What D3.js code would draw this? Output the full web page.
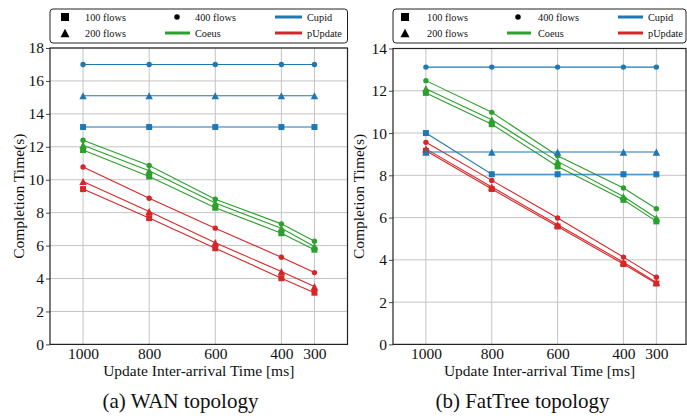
<!DOCTYPE html>
<html><head><meta charset="utf-8">
<script src="https://cdn.jsdelivr.net/npm/d3@7"></script>
</head>
<body style="margin:0">
<svg id="s" width="687" height="418"></svg>
<script>
// ---------- data ----------
const xValues = [1000, 800, 600, 400, 300];
const xTickLabels = ["1000", "800", "600", "400", "300"];
const flowLabels = ["100 flows", "200 flows", "400 flows"];
const algoLabels = ["Coeus", "Cupid", "pUpdate"];

// WAN topology
const wanCupid100 = [13.2, 13.2, 13.2, 13.2, 13.2];
const wanCupid200 = [15.1, 15.1, 15.1, 15.1, 15.1];
const wanCupid400 = [17.0, 17.0, 17.0, 17.0, 17.0];
const wanCoeus100 = [11.8, 10.2, 8.3, 6.75, 5.75];
const wanCoeus200 = [12.1, 10.55, 8.58, 7.05, 5.95];
const wanCoeus400 = [12.4, 10.87, 8.82, 7.32, 6.27];
const wanPUpdate100 = [9.43, 7.67, 5.84, 4.02, 3.14];
const wanPUpdate200 = [9.89, 8.07, 6.18, 4.42, 3.51];
const wanPUpdate400 = [10.77, 8.88, 7.06, 5.29, 4.36];
const wanYTicks = [0, 2, 4, 6, 8, 10, 12, 14, 16, 18];

// FatTree topology
const ftCupid100 = [10.0, 8.05, 8.05, 8.05, 8.05];
const ftCupid200 = [9.1, 9.1, 9.1, 9.1, 9.1];
const ftCupid400 = [13.12, 13.12, 13.12, 13.12, 13.12];
const ftCoeus100 = [11.9, 10.42, 8.42, 6.84, 5.82];
const ftCoeus200 = [12.1, 10.63, 8.66, 7.0, 5.98];
const ftCoeus400 = [12.48, 10.98, 8.93, 7.4, 6.42];
const ftPUpdate100 = [9.16, 7.35, 5.58, 3.8, 2.88];
const ftPUpdate200 = [9.25, 7.45, 5.66, 3.89, 2.93];
const ftPUpdate400 = [9.56, 7.76, 5.98, 4.13, 3.18];
const ftYTicks = [0, 2, 4, 6, 8, 10, 12, 14];

const colors = {Coeus: "#2ca02c", Cupid: "#1f77b4", pUpdate: "#d62728"};
const shapes = ["square", "triangle", "circle"];

const panels = [
  {
    caption: "(a) WAN topology", captionX: 180.5,
    x0: 50, x1: 347.5, y0: 48, y1: 344.4, xDomain: [1100, 200], yMax: 18, yTicks: wanYTicks,
    ylabelX: 24,
    series: {
      Coeus: [wanCoeus100, wanCoeus200, wanCoeus400],
      pUpdate: [wanPUpdate100, wanPUpdate200, wanPUpdate400],
      Cupid: [wanCupid100, wanCupid200, wanCupid400]
    },
    leg: {sq: 15, txt1: 35, circ: 127, txt2: 145, l2a: 115, l2b: 140, l3a: 225, l3b: 252, txt3: 257}
  },
  {
    caption: "(b) FatTree topology", captionX: 522.5,
    x0: 393, x1: 686, y0: 48.5, y1: 344.4, xDomain: [1100, 210], yMax: 14, yTicks: ftYTicks,
    ylabelX: 364,
    series: {
      Coeus: [ftCoeus100, ftCoeus200, ftCoeus400],
      pUpdate: [ftPUpdate100, ftPUpdate200, ftPUpdate400],
      Cupid: [ftCupid100, ftCupid200, ftCupid400]
    },
    leg: {sq: 12, txt1: 34, circ: 125, txt2: 145, l2a: 114, l2b: 138, l3a: 225, l3b: 250, txt3: 255}
  }
];

const svg = d3.select("#s");

// set the serif font on each text in every way the renderer may read it
function setFont(sel) {
  return sel.attr("font-family", "Liberation Serif").style("font-family", "Liberation Serif");
}

function markerPath(shape, size) {
  if (shape === "square") return d3.symbol(d3.symbolSquare, size * size)();
  if (shape === "circle") return d3.symbol(d3.symbolCircle, Math.PI * (size / 2) * (size / 2))();
  const h = size * 0.95, w = size;
  return `M0,${-h / 2}L${w / 2},${h / 2}L${-w / 2},${h / 2}Z`;
}
const markerSize = {square: 6, triangle: 7.5, circle: 5.4};

panels.forEach(p => {
  const x = d3.scaleLinear().domain(p.xDomain).range([p.x0, p.x1]);
  const y = d3.scaleLinear().domain([0, p.yMax]).range([p.y1, p.y0]);
  const g = svg.append("g");

  // grid
  g.append("g").selectAll("line").data(xValues).join("line")
    .attr("x1", d => x(d)).attr("x2", d => x(d)).attr("y1", p.y0).attr("y2", p.y1)
    .attr("stroke", "#c4c4c4").attr("stroke-width", 1);
  g.append("g").selectAll("line").data(p.yTicks).join("line")
    .attr("x1", p.x0).attr("x2", p.x1).attr("y1", d => y(d)).attr("y2", d => y(d))
    .attr("stroke", "#c4c4c4").attr("stroke-width", 1);

  // axes
  const yAxis = d3.axisLeft(y).tickValues(p.yTicks).tickSize(4).tickSizeOuter(0).tickPadding(2)
    .tickFormat(d3.format("d"));
  const ya = g.append("g").attr("transform", `translate(${p.x0},0)`).call(yAxis);
  setFont(ya);
  ya.select(".domain").remove();
  ya.selectAll("line").attr("stroke", "#333").attr("stroke-width", 0.9);
  setFont(ya.selectAll("text").attr("font-size", 15.5).attr("fill", "#111"));

  const xAxis = d3.axisBottom(x).tickValues(xValues).tickSize(0).tickPadding(4)
    .tickFormat((d, i) => xTickLabels[i]);
  const xa = g.append("g").attr("transform", `translate(0,${p.y1})`).call(xAxis);
  setFont(xa);
  xa.select(".domain").remove();
  setFont(xa.selectAll("text").attr("font-size", 15.5).attr("fill", "#111"));

  // series
  const line = d3.line().x((d, i) => x(xValues[i])).y(d => y(d));
  ["Coeus", "pUpdate", "Cupid"].forEach(algo => {
    p.series[algo].forEach((vals, fi) => {
      const sg = g.append("g");
      sg.append("path").attr("d", line(vals)).attr("fill", "none")
        .attr("stroke", colors[algo]).attr("stroke-width", 1.1);
      sg.selectAll("path.m").data(vals).join("path").attr("class", "m")
        .attr("d", markerPath(shapes[fi], markerSize[shapes[fi]]))
        .attr("transform", (d, i) => `translate(${x(xValues[i])},${y(d)})`)
        .attr("fill", colors[algo]);
    });
  });

  // spines
  g.append("rect").attr("x", p.x0).attr("y", p.y0).attr("width", p.x1 - p.x0).attr("height", p.y1 - p.y0)
    .attr("fill", "none").attr("stroke", "#222").attr("stroke-width", 1.2);

  // labels
  setFont(g.append("text").attr("x", (p.x0 + p.x1) / 2).attr("y", 376).attr("text-anchor", "middle")
    .attr("font-size", 15.5).attr("fill", "#111"))
    .text("Update Inter-arrival Time [ms]");
  setFont(g.append("text").attr("transform", `translate(${p.ylabelX},${(p.y0 + p.y1) / 2}) rotate(-90)`)
    .attr("text-anchor", "middle")
    .attr("font-size", 15.5).attr("fill", "#111"))
    .text("Completion Time(s)");
  setFont(g.append("text").attr("x", p.captionX).attr("y", 408).attr("text-anchor", "middle")
    .attr("font-size", 21).attr("fill", "#111")).text(p.caption);

  // legend
  const L = p.x0, lg = g.append("g");
  lg.append("rect").attr("x", L).attr("y", 9).attr("width", p.x1 - p.x0).attr("height", 34)
    .attr("rx", 3).attr("fill", "#fff").attr("stroke", "#222").attr("stroke-width", 1);
  const r1 = 17, r2 = 33, fs = 10.3;
  lg.append("path").attr("d", markerPath("square", 8)).attr("transform", `translate(${L + p.leg.sq},${r1})`).attr("fill", "#000");
  lg.append("path").attr("d", markerPath("triangle", 9)).attr("transform", `translate(${L + p.leg.sq},${r2})`).attr("fill", "#000");
  lg.append("path").attr("d", markerPath("circle", 5.5)).attr("transform", `translate(${L + p.leg.circ},${r1})`).attr("fill", "#000");
  lg.append("line").attr("x1", L + p.leg.l2a).attr("x2", L + p.leg.l2b).attr("y1", r2).attr("y2", r2)
    .attr("stroke", colors.Coeus).attr("stroke-width", 3);
  lg.append("line").attr("x1", L + p.leg.l3a).attr("x2", L + p.leg.l3b).attr("y1", r1).attr("y2", r1)
    .attr("stroke", colors.Cupid).attr("stroke-width", 3);
  lg.append("line").attr("x1", L + p.leg.l3a).attr("x2", L + p.leg.l3b).attr("y1", r2).attr("y2", r2)
    .attr("stroke", colors.pUpdate).attr("stroke-width", 3);
  const texts = [
    [p.leg.txt1, r1, flowLabels[0]], [p.leg.txt1, r2, flowLabels[1]],
    [p.leg.txt2, r1, flowLabels[2]], [p.leg.txt2, r2, algoLabels[0]],
    [p.leg.txt3, r1, algoLabels[1]], [p.leg.txt3, r2, algoLabels[2]]
  ];
  setFont(lg.selectAll("text").data(texts).join("text")
    .attr("x", d => L + d[0]).attr("y", d => d[1] + 3.6)
    .attr("font-size", fs).attr("fill", "#111")).text(d => d[2]);
});
</script>
</body></html>
